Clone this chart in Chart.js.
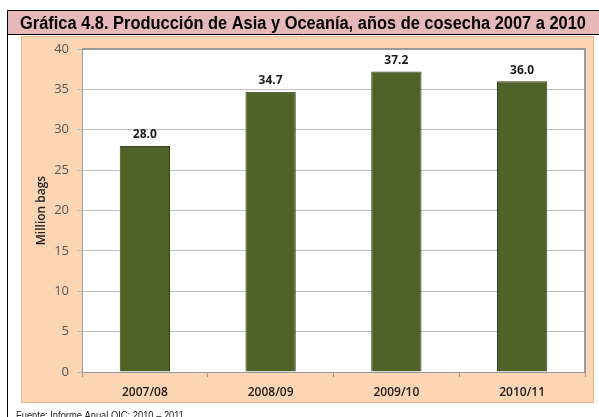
<!DOCTYPE html>
<html>
<head>
<meta charset="utf-8">
<script src="https://cdn.jsdelivr.net/npm/chart.js@4"></script>
<style>
  html, body { margin: 0; padding: 0; background: #ffffff; }
  canvas { display: block; }
</style>
</head>
<body>
<canvas id="asiaChart" width="599" height="417"></canvas>
<script>
// data
const harvestYears = ['2007/08', '2008/09', '2009/10', '2010/11'];
const productionValues = [28.0, 34.7, 37.2, 36.0];
const chartTitle = 'Gráfica 4.8. Producción de Asia y Oceanía, años de cosecha 2007 a 2010';
const axisLabel = 'Million bags';
const sourceNote = 'Fuente: Informe Anual OIC: 2010 – 2011';

// draws text squeezed/stretched to a given width
function fitText(ctx, text, x, y, width) {
  const w = ctx.measureText(text).width;
  ctx.save();
  ctx.translate(x, y);
  ctx.scale(width / w, 1);
  ctx.fillText(text, 0, 0);
  ctx.restore();
}

const frame = {
  id: 'frame',
  beforeDraw(chart) {
    const ctx = chart.ctx;
    const a = chart.chartArea;
    ctx.save();
    // title band
    ctx.fillStyle = '#e6b9b8';
    ctx.fillRect(7, 10, 592, 24);
    ctx.strokeStyle = '#000';
    ctx.lineWidth = 1;
    ctx.beginPath();
    ctx.moveTo(7.5, 10.5); ctx.lineTo(599, 10.5);
    ctx.moveTo(7.5, 10.5); ctx.lineTo(7.5, 417);
    ctx.moveTo(7.5, 34.5); ctx.lineTo(599, 34.5);
    ctx.stroke();
    ctx.fillStyle = '#000';
    ctx.font = 'bold 18px "Liberation Sans Narrow", "Liberation Sans", Arial, sans-serif';
    ctx.textBaseline = 'alphabetic';
    fitText(ctx, chartTitle, 20, 29, 566);
    // peach chart area
    ctx.fillStyle = '#fcd5b4';
    ctx.fillRect(21, 36, 573, 367);
    ctx.strokeStyle = '#e8b48a';
    ctx.strokeRect(21.5, 36.5, 572, 366);
    // plot background
    ctx.fillStyle = '#ffffff';
    ctx.fillRect(a.left, a.top, a.right - a.left, a.bottom - a.top);
    // footer
    ctx.fillStyle = '#222';
    ctx.font = '11px "Liberation Sans", Arial, sans-serif';
    fitText(ctx, sourceNote, 16, 419, 168);
    ctx.restore();
  },
  afterDraw(chart) {
    const ctx = chart.ctx;
    const a = chart.chartArea;
    ctx.save();
    ctx.strokeStyle = '#9a9a9a';
    ctx.lineWidth = 2;
    ctx.beginPath();
    ctx.moveTo(a.left, a.top); ctx.lineTo(a.right, a.top); ctx.lineTo(a.right, a.bottom);
    ctx.stroke();
    // value labels
    const meta = chart.getDatasetMeta(0);
    ctx.fillStyle = '#1a1a1a';
    ctx.font = 'bold 12px "Open Sans", sans-serif';
    ctx.textAlign = 'center';
    ctx.textBaseline = 'middle';
    meta.data.forEach((bar, i) => {
      ctx.fillText(productionValues[i].toFixed(1), bar.x, bar.y - 11);
    });
    ctx.restore();
  }
};

new Chart(document.getElementById('asiaChart'), {
  type: 'bar',
  data: {
    labels: harvestYears,
    datasets: [{
      data: productionValues,
      backgroundColor: '#4f6228',
      borderColor: '#34431a',
      borderWidth: 1,
      categoryPercentage: 1,
      barPercentage: 0.4
    }]
  },
  options: {
    responsive: false,
    animation: false,
    layout: { padding: { left: 21, right: 14, top: 49, bottom: 0 } },
    plugins: { legend: { display: false }, tooltip: { enabled: false } },
    scales: {
      x: {
        afterFit: s => { s.height = 45; },
        grid: { drawOnChartArea: false, tickLength: 5, color: '#9a9a9a' },
        border: { color: '#9a9a9a', width: 1 },
        ticks: { color: '#1a1a1a', padding: 8, font: { family: 'Open Sans', size: 12, weight: '600' } }
      },
      y: {
        min: 0,
        max: 40,
        afterFit: s => { s.width = 61; },
        ticks: { stepSize: 5, color: '#555', padding: 8, font: { family: 'Open Sans', size: 13 } },
        grid: { color: '#c0c0c0', tickLength: 5 },
        border: { color: '#9a9a9a', width: 1 },
        title: {
          display: true,
          text: axisLabel,
          color: '#222',
          padding: { top: 13, bottom: 0 },
          font: { family: 'Open Sans', size: 12, weight: '600' }
        }
      }
    }
  },
  plugins: [frame]
});
</script>
</body>
</html>
